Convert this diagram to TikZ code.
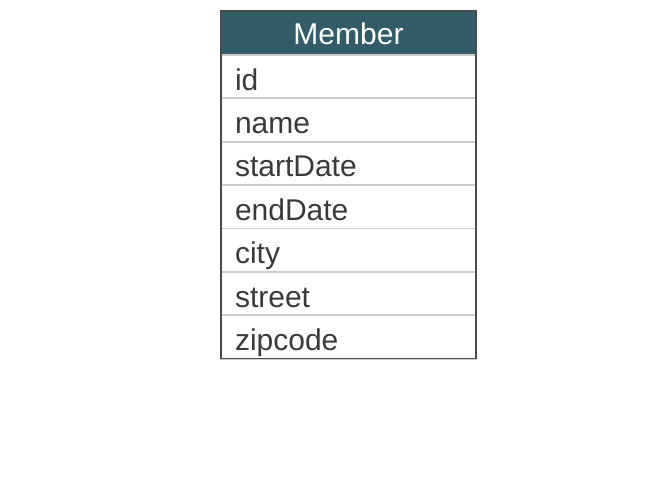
\documentclass[tikz,border=0pt]{standalone}
\usepackage{fontspec}
\setmainfont{Liberation Sans}
\usetikzlibrary{positioning}
\definecolor{headteal}{HTML}{325C68}
\definecolor{fieldtext}{HTML}{3A3A3A}
\definecolor{rowline}{HTML}{CCCCCC}
\definecolor{frameline}{HTML}{4A4A4A}

\begin{document}
\begin{tikzpicture}
	[x=1pt,y=-1pt,node distance=0pt,
		head node/.style={rectangle,fill=headteal,text=white,minimum width=255pt,minimum height=44pt,inner sep=0pt,outer sep=0pt,text height=24pt,text depth=0pt,font=\fontsize{30}{30}\selectfont},
		field node/.style={rectangle,draw=rowline,line width=1.8pt,text=fieldtext,minimum height=43.4pt,inner xsep=14pt,inner ysep=0pt,outer sep=0pt,text width=227pt,text height=27pt,text depth=0pt,align=left,font=\fontsize{30}{30}\selectfont}]

	\useasboundingbox (0,0) rectangle (665,478);

	\node[head node, anchor=north west] (member) at (221,11) {Member};
	\node[field node] [below=of member]    (id)        {id};
	\node[field node] [below=of id]        (name)      {name};
	\node[field node] [below=of name]      (startDate) {startDate};
	\node[field node] [below=of startDate] (endDate)   {endDate};
	\node[field node] [below=of endDate]   (city)      {city};
	\node[field node] [below=of city]      (street)    {street};
	\node[field node] [below=of street]    (zipcode)   {zipcode};

	% outer frame
	\draw[frameline, line width=1.2pt] (member.north west) rectangle (zipcode.south east);

\end{tikzpicture}
\end{document}
